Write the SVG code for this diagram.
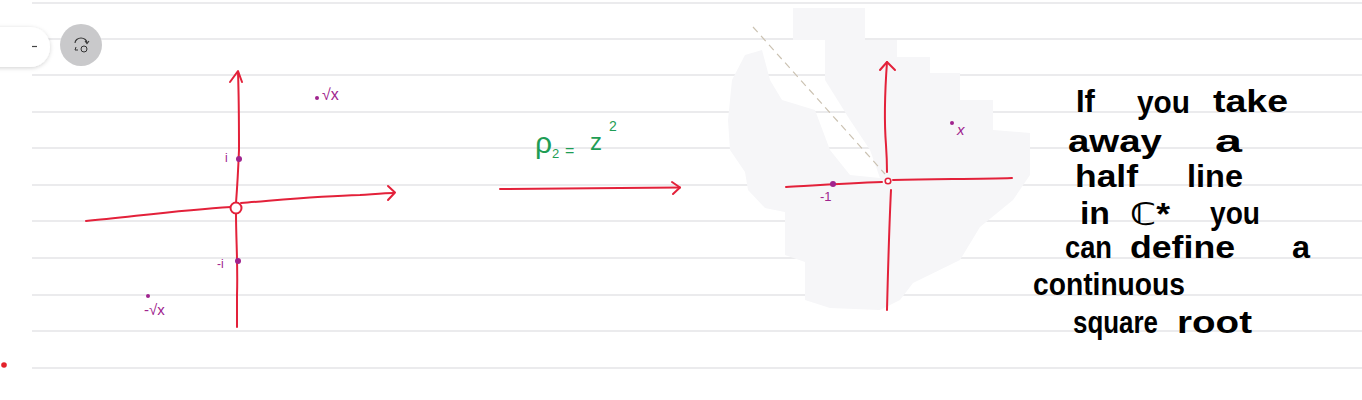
<svg xmlns="http://www.w3.org/2000/svg" width="1362" height="400" viewBox="0 0 1362 400">
<defs>
<filter id="sh" x="-50%" y="-50%" width="200%" height="200%"><feDropShadow dx="0" dy="1" stdDeviation="2" flood-color="#000" flood-opacity="0.18"/></filter>
</defs>
<style>
.rule{stroke:#ebebed;stroke-width:2;fill:none}
.red{stroke:#e3213a;stroke-width:2;fill:none;stroke-linecap:round;stroke-linejoin:round}
.pt{fill:#a0248e}
.plab{fill:#a0248e;font-family:"Liberation Sans",sans-serif}
.grn{fill:#1f9d55;font-family:"Liberation Sans",sans-serif}
.note{fill:#000;font-family:"Liberation Sans","DejaVu Sans",sans-serif;font-size:31px;font-weight:bold}
</style>
<rect width="1362" height="400" fill="#fff"/>
<g id="rules">
<line class="rule" x1="32" y1="3" x2="1362" y2="3"/>
<line class="rule" x1="32" y1="39" x2="1362" y2="39"/>
<line class="rule" x1="32" y1="75" x2="1362" y2="75"/>
<line class="rule" x1="32" y1="112" x2="1362" y2="112"/>
<line class="rule" x1="32" y1="148" x2="1362" y2="148"/>
<line class="rule" x1="32" y1="185" x2="1362" y2="185"/>
<line class="rule" x1="32" y1="221" x2="1362" y2="221"/>
<line class="rule" x1="32" y1="258" x2="1362" y2="258"/>
<line class="rule" x1="32" y1="295" x2="1362" y2="295"/>
<line class="rule" x1="32" y1="331" x2="1362" y2="331"/>
<line class="rule" x1="32" y1="368" x2="1362" y2="368"/>
</g>
<g id="toolbar">
<rect x="-30" y="27" width="80" height="40" rx="20" fill="#fff" filter="url(#sh)"/>
<line x1="32" y1="46.5" x2="37" y2="46.5" stroke="#444" stroke-width="1.2"/>
<circle cx="81" cy="45" r="21" fill="#c9c9cb"/>
<path d="M75,43 A6,5 0 0 1 87,43" fill="none" stroke="#333" stroke-width="1.1"/>
<path d="M85,41 L87,43.5 L89,41" fill="none" stroke="#333" stroke-width="1.1"/>
<circle cx="84" cy="49" r="3" fill="none" stroke="#333" stroke-width="1"/>
<path d="M76,47 L75,50 L78,50" fill="none" stroke="#333" stroke-width="1"/>
</g>
<circle cx="4" cy="365" r="2.8" fill="#e3212a"/>
<g id="plane-left">
<path class="red" d="M238,72 C239,100 239,130 239,150 C238,175 237,190 236,203"/>
<path class="red" d="M236,213 C236,240 238,265 237,295 L237,327"/>
<polyline class="red" points="230,82 238,71 242,82"/>
<path class="red" d="M86,221 C130,217 180,210 231,207"/>
<path class="red" d="M241,203 C280,200 320,196 360,195 C375,194 385,193 394,193"/>
<polyline class="red" points="388,186 395,192.5 388,200"/>
<circle cx="236" cy="208" r="5.5" fill="#fff" stroke="#e3213a" stroke-width="2"/>
<circle class="pt" cx="239" cy="159" r="3"/>
<text class="plab" x="225" y="162" font-size="12">i</text>
<circle class="pt" cx="238" cy="261" r="3"/>
<text class="plab" x="217" y="268" font-size="12">-i</text>
<circle class="pt" cx="317" cy="98" r="2"/>
<text class="plab" x="322" y="100" font-size="16">√x</text>
<circle class="pt" cx="148" cy="296" r="2"/>
<text class="plab" x="144" y="315" font-size="15">-√x</text>
</g>
<g id="map-label">
<text class="grn" x="535" y="153" font-size="30">ρ</text>
<text class="grn" x="552" y="158" font-size="13">2</text>
<text class="grn" x="565" y="156" font-size="16">=</text>
<text class="grn" x="590" y="150" font-size="24">z</text>
<text class="grn" x="609" y="131" font-size="14">2</text>
</g>
<g id="connectors">
<path class="red" d="M500,189 C560,189 620,188 680,187.5"/>
<polyline class="red" points="672,182 680,187.5 673,194"/>
</g>
<g id="plane-right">
<path d="M793,8 L865,8 L865,40 L897,40 L897,57 L930,57 L930,73 L960,73 L960,100 L993,100 L993,130 L1030,133 L1030,175 L1013,200 L980,227 L960,260 L913,283 L900,300 L880,310 L830,308 L805,300 L805,262 L785,255 L785,212 L765,208 L748,190 L745,172 L730,150 L728,120 L732,80 L745,55 L762,50 L770,80 L782,100 L815,110 L830,150 L850,175 L880,178 L870,150 L850,120 L825,80 L825,40 L793,40 Z" fill="#f6f6f8"/>
<line x1="753" y1="27" x2="885" y2="174" stroke="#cbc2b2" stroke-width="1.2" stroke-dasharray="7 5"/>
<path class="red" d="M887,62 C885,90 884,120 886,145 C887,160 887,168 887,172"/>
<polyline class="red" points="880,70 887,62 895,70"/>
<path class="red" d="M891,190 C889,230 888,270 887,310"/>
<path class="red" d="M786,187 C820,185 850,183 882,182"/>
<path class="red" d="M893,180 C940,179 980,179 1012,178"/>
<circle cx="888" cy="181" r="2.8" fill="#fff" stroke="#e3213a" stroke-width="1.6"/>
<circle class="pt" cx="833" cy="184" r="3"/>
<text class="plab" x="820" y="201" font-size="13">-1</text>
<circle class="pt" cx="952" cy="123" r="2"/>
<text class="plab" x="957" y="135" font-size="15" font-style="italic">x</text>
</g>
<g id="note">
<text class="note" x="1076" y="112" font-size="37">If</text>
<text class="note" x="1137" y="113" textLength="53" lengthAdjust="spacingAndGlyphs">you</text>
<text class="note" x="1213" y="112" textLength="75" lengthAdjust="spacingAndGlyphs">take</text>
<text class="note" x="1068" y="152" textLength="94" lengthAdjust="spacingAndGlyphs">away</text>
<text class="note" x="1215" y="152" textLength="27" lengthAdjust="spacingAndGlyphs">a</text>
<text class="note" x="1075" y="187" textLength="63" lengthAdjust="spacingAndGlyphs">half</text>
<text class="note" x="1187" y="187" textLength="56" lengthAdjust="spacingAndGlyphs">line</text>
<text class="note" x="1080" y="224" textLength="30" lengthAdjust="spacingAndGlyphs">in</text>
<text class="note" x="1130" y="225" textLength="40" lengthAdjust="spacingAndGlyphs">ℂ*</text>
<text class="note" x="1210" y="224" textLength="50" lengthAdjust="spacingAndGlyphs">you</text>
<text class="note" x="1065" y="258" font-size="28" textLength="47" lengthAdjust="spacingAndGlyphs">can</text>
<text class="note" x="1130" y="258" textLength="105" lengthAdjust="spacingAndGlyphs">define</text>
<text class="note" x="1292" y="258" textLength="18" lengthAdjust="spacingAndGlyphs">a</text>
<text class="note" x="1033" y="295" textLength="152" lengthAdjust="spacingAndGlyphs">continuous</text>
<text class="note" x="1073" y="333" textLength="85" lengthAdjust="spacingAndGlyphs">square</text>
<text class="note" x="1177" y="333" textLength="75" lengthAdjust="spacingAndGlyphs">root</text>
</g>
</svg>
